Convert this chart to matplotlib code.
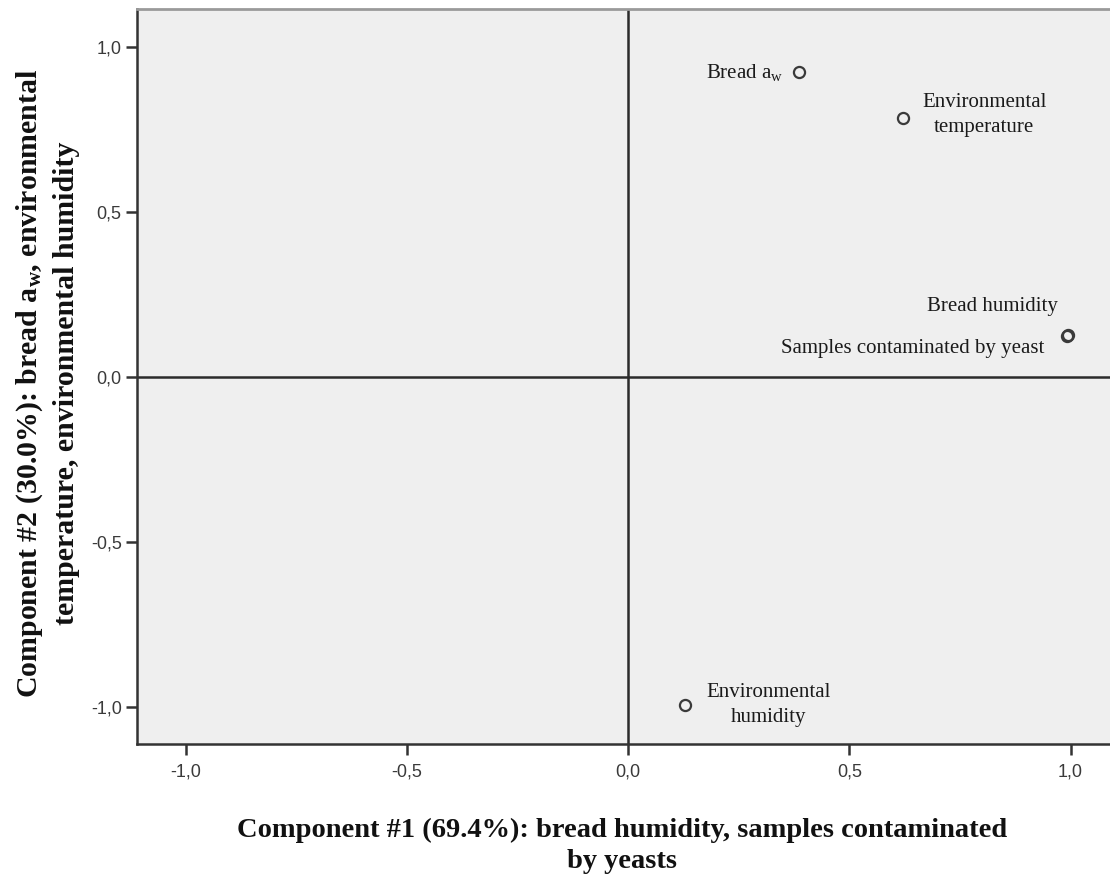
import matplotlib
matplotlib.use("Agg")
import matplotlib.pyplot as plt
from matplotlib.ticker import FuncFormatter

# Component loadings of the measured variables
variables = ["Bread a$_{\\mathregular{w}}$", "Environmental\ntemperature",
             "Bread humidity", "Samples contaminated by yeast",
             "Environmental\nhumidity"]
comp1 = [0.387, 0.622, 0.993, 0.991, 0.129]
comp2 = [0.924, 0.785, 0.128, 0.125, -0.994]

xticks = [-1.0, -0.5, 0.0, 0.5, 1.0]
yticks = [-1.0, -0.5, 0.0, 0.5, 1.0]

xlabel = "Component #1 (69.4%): bread humidity, samples contaminated\nby yeasts"
ylabel = ("Component #2 (30.0%): bread a$_{\\mathregular{w}}$, environmental\n"
          "temperature, environmental humidity")

plt.rcParams["mathtext.default"] = "regular"
serif = ["Liberation Serif", "DejaVu Serif"]
sans = ["Liberation Sans Narrow", "Liberation Sans", "DejaVu Sans"]

W, H = 1110, 881
fig = plt.figure(figsize=(W / 100, H / 100), dpi=100)
ax = fig.add_axes([137 / W, 1 - 744 / H, 1 - 137 / W, (744 - 9) / H])
ax.set_facecolor("#efefef")
ax.set_xlim(-1.1096, 1.089)
ax.set_ylim(-1.112, 1.115)

# reference lines through the origin
ax.axhline(0, color="#2b2b2b", lw=1.8, zorder=1)
ax.axvline(0, color="#2b2b2b", lw=1.8, zorder=1)

ax.plot(comp1, comp2, linestyle="none", marker="o", ms=8, mfc="none",
        mec="#3a3a3a", mew=1.6, zorder=3)

# point annotations: (dx, dy) offsets in points, alignment
offsets = [(-11.5, 0, "right"),
           (13.5, 2, "left"),
           (-7, 20, "right"),
           (-16, -9, "right"),
           (15, 0, "left")]
for name, x, y, (dx, dy, ha) in zip(variables, comp1, comp2, offsets):
    ax.annotate(name, (x, y), xytext=(dx, dy), textcoords="offset points",
                ha=ha, va="center", multialignment="center", fontsize=15,
                family=serif, color="#1a1a1a", linespacing=1.4)

ax.set_xticks(xticks)
ax.set_yticks(yticks)
fmt = FuncFormatter(lambda v, p: f"{v:.1f}".replace(".", ","))
ax.xaxis.set_major_formatter(fmt)
ax.yaxis.set_major_formatter(fmt)
ax.tick_params(direction="out", length=8, width=1.8, color="#333333",
               labelsize=13, labelcolor="#3a3a3a")
ax.tick_params(axis="x", pad=6)
ax.tick_params(axis="y", pad=3)
for lab in ax.get_xticklabels() + ax.get_yticklabels():
    lab.set_family(sans)

for side in ("left", "bottom"):
    ax.spines[side].set_color("#333333")
    ax.spines[side].set_linewidth(1.8)
ax.spines["top"].set_color("#9a9a9a")
ax.spines["top"].set_linewidth(2.0)
ax.spines["right"].set_visible(False)

fig.text(622 / W, 1 - 846 / H, xlabel, fontsize=20.5, fontweight="bold",
         family=serif, ha="center", va="center", linespacing=1.35,
         color="#111111")
fig.text(47 / W, 1 - 383 / H, ylabel, fontsize=21.5, fontweight="bold",
         family=serif, ha="center", va="center", rotation=90,
         linespacing=1.4, color="#111111")

fig.savefig("out.png", dpi=100)
